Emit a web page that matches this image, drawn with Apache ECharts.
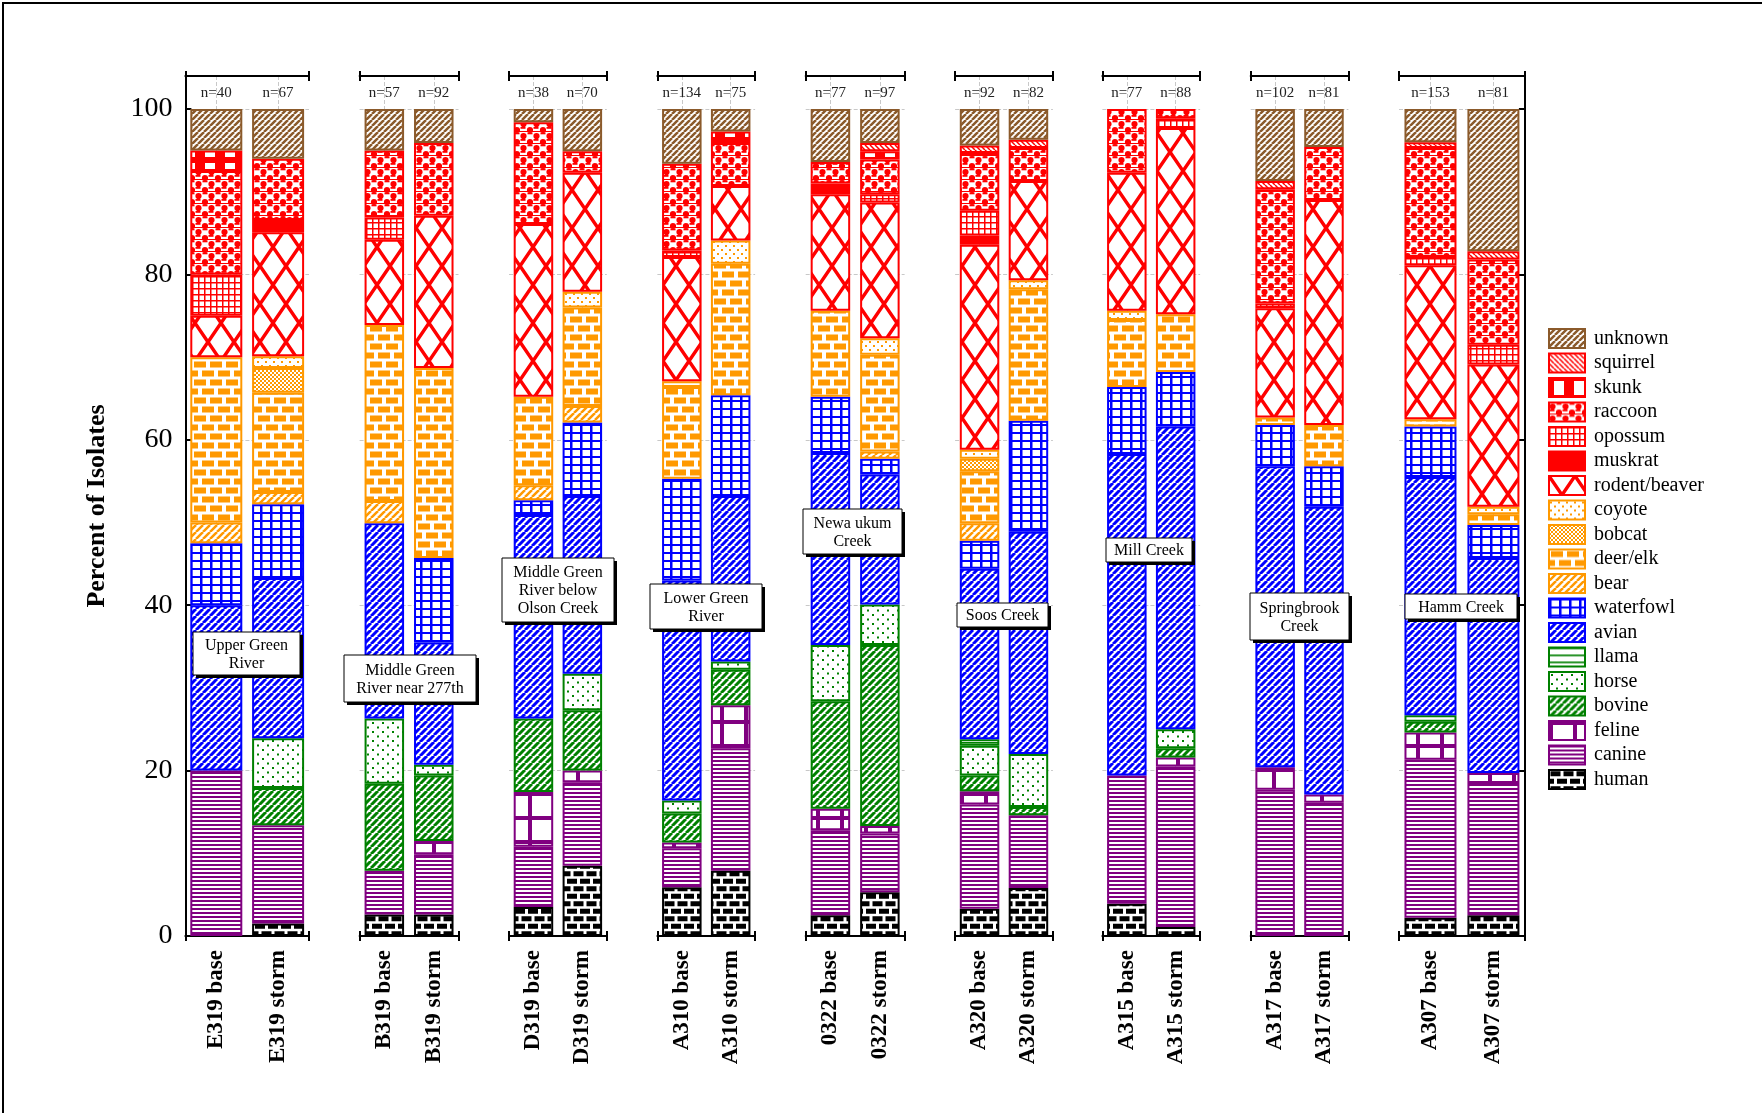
<!DOCTYPE html>
<html><head><meta charset="utf-8">
<script src="https://cdn.jsdelivr.net/npm/echarts@6/dist/echarts.min.js"></script>
<style>
html,body{margin:0;padding:0;background:#fff;}
#wrap{position:relative;width:1762px;height:1113px;overflow:hidden;}
#chart{position:absolute;left:0;top:0;width:1762px;height:1113px;}
#frame{position:absolute;left:2px;top:2px;width:1760px;height:1111px;border-top:2px solid #000;border-left:2px solid #000;pointer-events:none;}
</style></head><body>
<div id="wrap"><div id="chart"></div><div id="frame"></div></div>
<script>
// ---------------- data ----------------
const bars = ['E319 base','E319 storm','B319 base','B319 storm','D319 base','D319 storm','A310 base','A310 storm','0322 base','0322 storm','A320 base','A320 storm','A315 base','A315 storm','A317 base','A317 storm','A307 base','A307 storm'];
const nLabels = ['n=40','n=67','n=57','n=92','n=38','n=70','n=134','n=75','n=77','n=97','n=92','n=82','n=77','n=88','n=102','n=81','n=153','n=81'];
const siteNames = ['Upper Green\nRiver','Middle Green\nRiver near 277th','Middle Green\nRiver below\nOlson Creek','Lower Green\nRiver','Newa ukum\nCreek','Soos Creek','Mill Creek','Springbrook\nCreek','Hamm Creek'];

// percent of isolates per source, one value per bar (same order as bars)
const human     = [0, 1.5, 2.6, 2.6, 3.5, 8.5, 5.9, 7.9, 2.5, 5.3, 3.3, 5.8, 3.9, 1.1, 0, 0, 2.2, 2.5];
const canine    = [20, 11.9, 5.3, 7.3, 7.3, 10.1, 4.7, 14.8, 10.3, 7.1, 12.6, 8.8, 15.5, 19.4, 17.7, 16.1, 19.1, 16.0];
const feline    = [0, 0, 0, 1.6, 6.6, 1.4, 0.7, 5.2, 2.6, 0.9, 1.6, 0, 0, 1.1, 2.7, 1.0, 3.3, 1.2];
const bovine    = [0, 4.5, 10.5, 7.9, 8.9, 7.3, 3.5, 4.3, 13.0, 21.9, 1.9, 1.0, 0, 1.1, 0, 0, 1.3, 0];
const horse     = [0, 6.0, 7.9, 1.3, 0, 4.4, 1.6, 1.0, 6.8, 4.9, 3.6, 6.4, 0, 2.3, 0, 0, 0, 0];
const llama     = [0, 0, 0, 0, 0, 0, 0, 0, 0, 0, 0.8, 0, 0, 0, 0, 0, 0.8, 0];
const avian     = [20, 19.4, 23.6, 14.8, 24.6, 21.5, 26.6, 20.0, 23.2, 15.7, 20.6, 26.9, 38.9, 36.6, 36.4, 34.8, 28.8, 26.0];
const waterfowl = [7.5, 8.9, 0, 10.2, 1.8, 8.9, 12.3, 12.2, 6.8, 1.9, 3.4, 13.4, 8.1, 6.6, 5.0, 4.9, 6.1, 4.0];
const bear      = [2.5, 1.5, 2.7, 0, 1.8, 2.0, 0, 0, 0, 0.9, 2.1, 0, 0, 0, 0, 0, 0, 0];
const deerElk   = [20, 12.0, 21.3, 23.0, 10.7, 11.9, 11.1, 15.9, 10.4, 11.7, 6.3, 15.9, 8.1, 7.0, 0.9, 5.0, 0.9, 1.3];
const bobcat    = [0, 3.0, 0, 0, 0, 0, 0, 0, 0, 0, 1.5, 0, 0, 0, 0, 0, 0, 0];
const coyote    = [0, 1.4, 0, 0, 0, 1.9, 0.7, 2.8, 0, 2.0, 1.1, 1.1, 1.1, 0, 0, 0, 0, 0.9];
const rodent    = [5, 15.0, 10.3, 18.4, 20.9, 14.4, 15.0, 6.6, 14.1, 16.4, 24.8, 12.0, 16.7, 22.5, 13.2, 27.2, 18.6, 17.2];
const muskrat   = [0, 1.5, 0, 0, 0, 0, 0, 0, 1.3, 0, 1.1, 0, 0, 0, 0, 0, 0, 0];
const opossum   = [5, 0, 2.7, 0, 0, 0, 0.8, 0, 0, 1.0, 3.0, 0, 0, 1.2, 0.6, 0, 1.0, 2.4];
const raccoon   = [12.5, 7.4, 8.1, 8.8, 12.3, 2.6, 10.5, 5.2, 2.6, 4.2, 7.0, 4.0, 7.7, 1.1, 13.8, 6.4, 13.2, 10.3];
const skunk     = [2.5, 0, 0, 0, 0, 0, 0, 1.4, 0, 1.0, 0, 0, 0, 0, 0, 0, 0, 0];
const squirrel  = [0, 0, 0, 0, 0, 0, 0, 0, 0, 1.0, 0.9, 1.0, 0, 0, 1.0, 0, 0.7, 1.0];
const unknown   = [5, 6.0, 5.0, 4.1, 1.6, 5.1, 6.6, 2.7, 6.4, 4.1, 4.4, 3.7, 0, 0, 8.7, 4.6, 4.0, 17.2];

const speciesNames  = ['human','canine','feline','bovine','horse','llama','avian','waterfowl','bear','deer/elk','bobcat','coyote','rodent/beaver','muskrat','opossum','raccoon','skunk','squirrel','unknown'];
const speciesValues = [human, canine, feline, bovine, horse, llama, avian, waterfowl, bear, deerElk, bobcat, coyote, rodent, muskrat, opossum, raccoon, skunk, squirrel, unknown];

// ---------------- styles / layout ----------------
const SERIF = '"Liberation Serif", "Times New Roman", serif';
const RED='#FF0000', ORANGE='#FF9900', BLUE='#0000FF', GREEN='#008000', PURPLE='#800080', BROWN='#8B5A2B', BLACK='#000000';

function tile(w, h, draw){
  const c = document.createElement('canvas'); c.width = w; c.height = h;
  const g = c.getContext('2d'); g.fillStyle = '#fff'; g.fillRect(0,0,w,h); draw(g,w,h);
  return {image: c, repeat: 'repeat'};
}
function diag(color, p, lw, up){
  return tile(p, p, (g)=>{ g.strokeStyle=color; g.lineWidth=lw; g.beginPath();
    for (let k=-1;k<=1;k++){ if(up){ g.moveTo(k*p, p); g.lineTo(k*p+p, 0);} else { g.moveTo(k*p, 0); g.lineTo(k*p+p, p);} }
    g.stroke(); });
}
function cross(color, W, H, lw){
  return tile(W, H, (g)=>{ g.strokeStyle=color; g.lineWidth=lw; g.beginPath();
    for (const dx of [-W,0,W]) { g.moveTo(dx-W,-H); g.lineTo(dx+2*W,2*H); g.moveTo(dx+2*W,-H); g.lineTo(dx-W,2*H); }
    g.stroke(); });
}
function gridPat(color, W, H, lwx, lwy){
  return tile(W, H, (g)=>{ g.fillStyle=color; g.fillRect(0,0,lwx,H); g.fillRect(0,0,W,lwy); });
}
function hlines(color, H, lw){
  return tile(8, H, (g)=>{ g.fillStyle=color; g.fillRect(0,0,8,lw); });
}
function dots(color, W, H, s, pts){
  return tile(W, H, (g)=>{ g.fillStyle=color; pts.forEach(p=>g.fillRect(p[0],p[1],s,s)); });
}
function bricks(color, bw, bh, gx, gy){
  const pw=bw+gx, ph=bh+gy, W=2*pw, H=2*ph;
  return tile(W, H, (g)=>{ g.fillStyle=color;
    for (let k=0;k<3;k++) g.fillRect(gx/2+k*pw, gy/2, bw, bh);
    for (let k=-1;k<3;k++) g.fillRect(gx/2+k*pw+pw/2, gy/2+ph, bw, bh); });
}
const patterns = {
  'human': bricks(BLACK, 10, 5, 3, 2.5),
  'canine': hlines(PURPLE, 4, 2),
  'feline': gridPat(PURPLE, 24, 24, 4, 4),
  'bovine': diag(GREEN, 7, 3, true),
  'horse': dots(GREEN, 10, 9, 2, [[2,2],[7,6.5]]),
  'llama': hlines(GREEN, 7, 1.6),
  'avian': diag(BLUE, 7, 3, true),
  'waterfowl': gridPat(BLUE, 10, 8, 2.5, 2),
  'bear': diag(ORANGE, 7, 2.5, true),
  'deer/elk': bricks(ORANGE, 12, 6, 4, 3),
  'bobcat': dots(ORANGE, 4, 4, 2, [[0,0],[2,2]]),
  'coyote': dots(ORANGE, 8, 8, 2, [[1,1],[5,5]]),
  'rodent/beaver': cross(RED, 26, 38, 3.5),
  'muskrat': RED,
  'opossum': gridPat(RED, 6, 6, 1.5, 1.5),
  'raccoon': tile(13, 12, (g)=>{ g.fillStyle=RED; g.beginPath(); g.arc(3.5,4,3.1,0,Math.PI*2); g.fill(); g.beginPath(); g.arc(10,10,3.1,0,Math.PI*2); g.fill(); g.beginPath(); g.arc(10,-2,3.1,0,Math.PI*2); g.fill(); g.fillRect(7.5,0.5,5,1.8); g.fillRect(0.5,7,5,1.8); g.fillRect(0,11,13,1); }),
  'skunk': tile(20, 20, (g)=>{ g.fillStyle=RED; g.fillRect(0,0,20,20); g.fillStyle='#fff'; g.fillRect(5,3,10,14); }),
  'squirrel': diag(RED, 5, 1.5, false),
  'unknown': diag(BROWN, 6, 2.5, true)
};
const lineColors = {'human':BLACK,'canine':PURPLE,'feline':PURPLE,'bovine':GREEN,'horse':GREEN,'llama':GREEN,'avian':BLUE,'waterfowl':BLUE,'bear':ORANGE,'deer/elk':ORANGE,'bobcat':ORANGE,'coyote':ORANGE,'rodent/beaver':RED,'muskrat':RED,'opossum':RED,'raccoon':RED,'skunk':RED,'squirrel':RED,'unknown':BROWN};

const GRID_X = [185.4, 359.6, 509, 657.4, 805.7, 955.1, 1102.4, 1250.7, 1399];
const GRID_W = [123.6, 98.9, 97.8, 97.7, 98.9, 97.8, 97.7, 97.7, 125.9];
const BAR_W  = [52, 39.5, 39.5, 39.5, 39.5, 39.5, 39.5, 39.5, 52];
const GRID_TOP = 76, GRID_BOTTOM = 177;
const LABEL_BOX = [[193,632,303,678],[344,655,479,705],[502,558,617,625],[650,584,765,632],[803,509,905,557],[957,603,1051,630],[1106,538,1195,565],[1250,593,1352,643],[1405,594,1520,622]];

const axisLineStyle = {color:'#000', width:2};
const gridLineStyle = {color:'#c8c8c8', type:'dashed', width:1};

const grid=[], xAxis=[], yAxis=[], series=[];
for (let i=0;i<9;i++){
  grid.push({left:GRID_X[i], width:GRID_W[i], top:GRID_TOP, bottom:GRID_BOTTOM, containLabel:false});
  xAxis.push({gridIndex:i, type:'category', position:'bottom', data:bars.slice(2*i,2*i+2),
    axisLine:{onZero:false, lineStyle:axisLineStyle},
    axisTick:{alignWithLabel:true, inside:true, length:6, lineStyle:axisLineStyle},
    axisLabel:{interval:0, rotate:90, margin:14, color:'#000', fontFamily:SERIF, fontWeight:'bold', fontSize:23},
    splitLine:{show:true, alignWithLabel:true, lineStyle:gridLineStyle}});
  xAxis.push({gridIndex:i, type:'category', position:'top', data:nLabels.slice(2*i,2*i+2),
    axisLine:{onZero:false, lineStyle:axisLineStyle},
    axisTick:{alignWithLabel:true, inside:true, length:6, lineStyle:axisLineStyle},
    axisLabel:{interval:0, inside:true, margin:10, color:'#222', fontFamily:SERIF, fontSize:15},
    splitLine:{show:false}});
  for (const pos of ['bottom','top']) for (const ins of [true,false]) {
    xAxis.push({gridIndex:i, type:'value', position:pos, min:0, max:1, interval:1,
      axisLine:{show:false, onZero:false}, axisTick:{show:true, inside:ins, length:5, lineStyle:axisLineStyle},
      axisLabel:{show:false}, splitLine:{show:false}});
  }
  const edge = (i===0 || i===8);
  yAxis.push({gridIndex:i, type:'value', min:0, max:104, interval:20, position: i===8?'right':'left',
    axisLine:{show:edge, onZero:false, lineStyle:axisLineStyle},
    axisTick:{show:edge, inside:true, length:6, lineStyle:axisLineStyle},
    axisLabel:{show:i===0, margin:13, color:'#000', fontFamily:SERIF, fontSize:28, formatter:(v)=> (v%20===0 ? String(v) : '')},
    splitLine:{show:true, lineStyle:gridLineStyle},
    name: i===0 ? 'Percent of Isolates' : '', nameLocation:'middle', nameGap:75,
    nameTextStyle:{fontFamily:SERIF, fontWeight:'bold', fontSize:26, color:'#000'}});
  speciesNames.forEach((nm, s)=>{
    const vals = speciesValues[s].slice(2*i,2*i+2).map(v=> v===0 ? null : v);
    series.push({type:'bar', name:nm, xAxisIndex:i*6, yAxisIndex:i, stack:'g'+i, barWidth:BAR_W[i],
      data:vals, itemStyle:{color:patterns[nm], borderColor:lineColors[nm], borderWidth:2}, emphasis:{disabled:true}});
  });
}

const graphic = [];
siteNames.forEach((t,i)=>{
  const b = LABEL_BOX[i]; const w = b[2]-b[0]-3, h = b[3]-b[1]-3;
  graphic.push({type:'rect', z:100, zlevel:1, shape:{x:b[0]+3, y:b[1]+3, width:w, height:h}, style:{fill:'#000'}});
  graphic.push({type:'rect', z:101, zlevel:1, shape:{x:b[0], y:b[1], width:w, height:h}, style:{fill:'#fff', stroke:'#000', lineWidth:1}});
  graphic.push({type:'text', z:102, zlevel:1, x:b[0]+w/2, y:b[1]+h/2+1, style:{text:t, fontFamily:SERIF, fontSize:16, fill:'#000', align:'center', verticalAlign:'middle', lineHeight:18}});
});

const chart = echarts.init(document.getElementById('chart'), null, {renderer:'canvas'});
chart.setOption({
  animation:false,
  backgroundColor:'#fff',
  grid, xAxis, yAxis, series, graphic,
  legend:{orient:'vertical', left:1543, top:323, itemWidth:36, itemHeight:19, itemGap:3.5, icon:'rect',
    data:[...speciesNames].reverse(), selectedMode:false,
    itemStyle:{borderWidth:2},
    textStyle:{fontFamily:SERIF, fontSize:20, color:'#000', padding:[0,0,0,4], lineHeight:19}}
});
</script></body></html>
